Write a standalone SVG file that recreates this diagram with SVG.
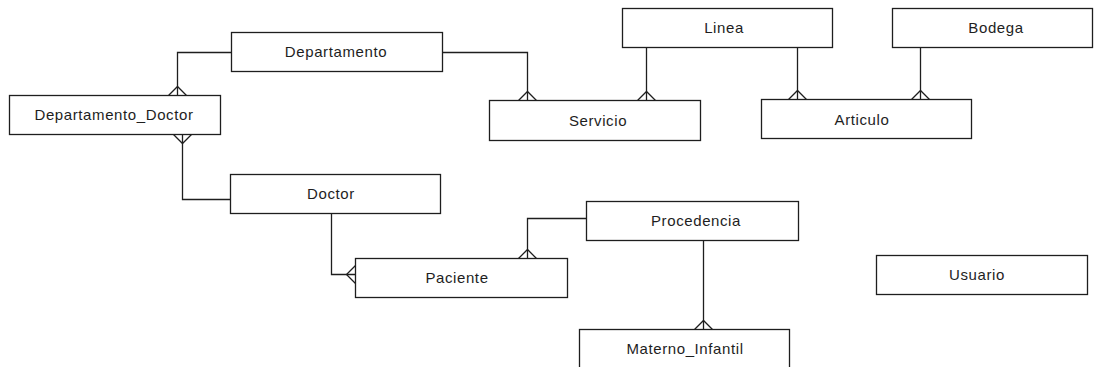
<svg xmlns="http://www.w3.org/2000/svg" width="1094" height="367" viewBox="0 0 1094 367">
<style>
.box{fill:#fff;stroke:#1e1e1e;stroke-width:1.3}
.lbl{font-family:"Liberation Sans",Arial,sans-serif;font-size:15px;letter-spacing:0.6px;fill:#1e1e1e;text-anchor:middle}
.conn path{fill:none;stroke:#1e1e1e;stroke-width:1.3}
</style>
<rect width="1094" height="367" fill="#fff"/>
<g id="connectors" class="conn">
<path d="M231.5,52.5 H177.5 V95.5"/>
<path d="M168.5,95.5 L177.5,86.5 L186.5,95.5"/>
<path d="M182.5,134.5 V199.5 H230.5"/>
<path d="M173.5,134.5 L182.5,143.5 L191.5,134.5"/>
<path d="M442.5,52.5 H527.5 V100.5"/>
<path d="M518.5,100.5 L527.5,91.5 L536.5,100.5"/>
<path d="M646.5,47.5 V100.5"/>
<path d="M637.5,100.5 L646.5,91.5 L655.5,100.5"/>
<path d="M797.5,47.5 V99.5"/>
<path d="M788.5,99.5 L797.5,90.5 L806.5,99.5"/>
<path d="M920.5,47.5 V99.5"/>
<path d="M911.5,99.5 L920.5,90.5 L929.5,99.5"/>
<path d="M331.5,213.5 V274.5 H355.5"/>
<path d="M355.5,265.5 L346.5,274.5 L355.5,283.5"/>
<path d="M586.5,218.5 H527.5 V258.5"/>
<path d="M518.5,258.5 L527.5,249.5 L536.5,258.5"/>
<path d="M703.5,240.5 V329.5"/>
<path d="M694.5,329.5 L703.5,320.5 L712.5,329.5"/>
</g>
<g id="departamento"><rect class="box" x="231.5" y="32.5" width="211" height="39"/><text class="lbl" x="336" y="57">Departamento</text></g>
<g id="departamento_doctor"><rect class="box" x="9.5" y="95.5" width="211" height="39"/><text class="lbl" x="114" y="120">Departamento_Doctor</text></g>
<g id="servicio"><rect class="box" x="489.5" y="100.5" width="211" height="40"/><text class="lbl" x="598" y="126">Servicio</text></g>
<g id="linea"><rect class="box" x="622.5" y="8.5" width="210" height="39"/><text class="lbl" x="724" y="33">Linea</text></g>
<g id="articulo"><rect class="box" x="761.5" y="99.5" width="210" height="39"/><text class="lbl" x="862" y="125">Articulo</text></g>
<g id="bodega"><rect class="box" x="892.5" y="8.5" width="200" height="39"/><text class="lbl" x="996" y="33">Bodega</text></g>
<g id="doctor"><rect class="box" x="230.5" y="174.5" width="210" height="39"/><text class="lbl" x="331" y="199">Doctor</text></g>
<g id="paciente"><rect class="box" x="355.5" y="258.5" width="212" height="39"/><text class="lbl" x="457" y="283">Paciente</text></g>
<g id="procedencia"><rect class="box" x="586.5" y="201.5" width="212" height="39"/><text class="lbl" x="696" y="226">Procedencia</text></g>
<g id="materno_infantil"><rect class="box" x="579.5" y="329.5" width="210" height="40"/><text class="lbl" x="685" y="354">Materno_Infantil</text></g>
<g id="usuario"><rect class="box" x="876.5" y="255.5" width="211" height="39"/><text class="lbl" x="977" y="280">Usuario</text></g>
</svg>
